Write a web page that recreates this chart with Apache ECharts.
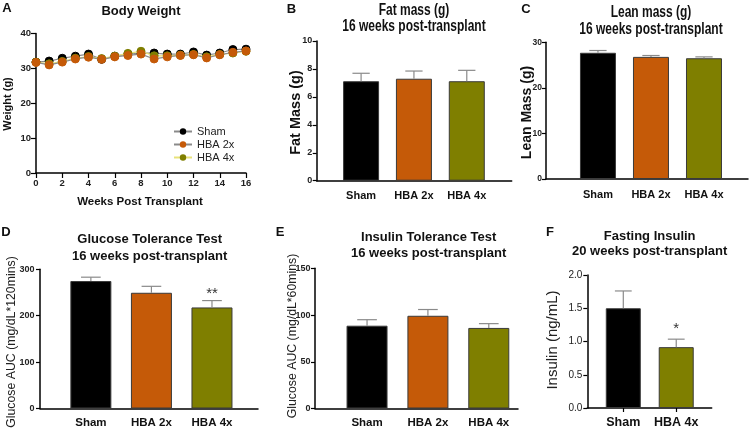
<!DOCTYPE html>
<html><head><meta charset="utf-8">
<script src="https://cdn.jsdelivr.net/npm/echarts@6/dist/echarts.min.js"></script>
<style>html,body{margin:0;padding:0;background:#fff}#c{width:750px;height:429px}</style>
</head><body><div id="c"></div>
<script>
// ---- Data ----
const weeks = [0,1,2,3,4,5,6,7,8,9,10,11,12,13,14,15,16];
const bwSham = [31.8,32.1,32.9,33.5,34.1,32.6,33.5,34.1,34.4,34.4,34.1,34.1,34.7,33.8,34.4,35.4,35.5];
const bwSemSham = [0.6,0.6,0.6,0.7,0.7,0.7,0.7,0.7,0.7,0.6,0.7,0.7,0.7,0.6,0.7,0.7,0.8];
const bwHba2 = [31.7,31.0,31.8,32.7,33.2,32.6,33.3,33.7,34.1,32.7,33.3,33.7,33.9,33.0,33.9,34.6,35.0];
const bwSemHba2 = [0.5,0.5,0.5,0.6,0.6,0.6,0.6,0.6,0.6,0.6,0.6,0.6,0.6,0.6,0.6,0.6,0.7];
const bwHba4 = [31.8,31.3,32.0,32.9,33.4,32.8,33.5,34.3,34.9,33.6,33.6,33.8,34.0,33.3,34.0,34.4,34.9];
const bwSemHba4 = [0.5,0.5,0.5,0.5,0.6,0.6,0.6,0.6,0.6,0.6,0.6,0.6,0.6,0.6,0.6,0.6,0.6];

const groups3 = ['Sham','HBA 2x','HBA 4x'];
const fatMean = [7.12, 7.30, 7.12];
const fatSem  = [0.57, 0.55, 0.78];
const leanMean = [27.7, 26.8, 26.5];
const leanSem  = [0.5, 0.3, 0.3];
const gttMean = [274.7, 249.4, 217.8];
const gttSem  = [8.3, 13.9, 14.8];
const gttSig  = ['', '', '**'];
const ittMean = [88.6, 99.2, 86.2];
const ittSem  = [6.4, 6.7, 4.6];
const groups2 = ['Sham','HBA 4x'];
const insMean = [1.50, 0.915];
const insSem  = [0.26, 0.12];
const insSig  = ['', '*'];

// ---- Styles ----
const ARIAL = '"Liberation Sans", Arial, sans-serif';
const COL = {Sham:'#000000', 'HBA 2x':'#C55A08', 'HBA 4x':'#7F7F00'};
const ERRC = '#8a8a8a';

const chart = echarts.init(document.getElementById('c'), null, {renderer:'canvas'});

const grids = [], xAxes = [], yAxes = [], series = [];

function axisLineStyle(){ return {show:true, onZero:false, lineStyle:{color:'#000', width:1.5}}; }

function errRender(capHalf, both, sig, sigGap, sigSize){
  return function(params, api){
    const x = api.value(0), y = api.value(1), e = api.value(2);
    const pt = api.coord([x, y + e]);
    const pb = api.coord([x, both ? y - e : y]);
    const st = {stroke: ERRC, lineWidth: 1.2};
    const ch = [
      {type:'line', shape:{x1:pt[0], y1:pt[1], x2:pb[0], y2:pb[1]}, style:st},
      {type:'line', shape:{x1:pt[0]-capHalf, y1:pt[1], x2:pt[0]+capHalf, y2:pt[1]}, style:st}
    ];
    if (both) ch.push({type:'line', shape:{x1:pb[0]-capHalf, y1:pb[1], x2:pb[0]+capHalf, y2:pb[1]}, style:st});
    if (sig && sig[params.dataIndex]) {
      ch.push({type:'text', x:pt[0], y:pt[1]-sigGap, style:{text:sig[params.dataIndex], textAlign:'center', textVerticalAlign:'bottom', fill:'#333', font:'normal '+sigSize+'px '+ARIAL}});
    }
    return {type:'group', children:ch};
  };
}

// ---- Panel A: body weight ----
grids.push({left:36, top:33.5, width:210, height:139.5});
xAxes.push({type:'value', gridIndex:0, min:0, max:16, interval:2,
  axisLine:axisLineStyle(), axisTick:{show:true, length:5, lineStyle:{color:'#000', width:1.2}},
  axisLabel:{margin:5, color:'#222', fontFamily:ARIAL, fontWeight:'bold', fontSize:9.5}, splitLine:{show:false}});
yAxes.push({type:'value', gridIndex:0, min:0, max:40, interval:10,
  axisLine:axisLineStyle(), axisTick:{show:true, length:5, lineStyle:{color:'#000', width:1.2}},
  axisLabel:{margin:5, color:'#222', fontFamily:ARIAL, fontWeight:'bold', fontSize:9.5}, splitLine:{show:false}});

const bwSets = [
  {name:'Sham', v:bwSham, s:bwSemSham, line:'#8a8a8a'},
  {name:'HBA 4x', v:bwHba4, s:bwSemHba4, line:'#e8e27a'},
  {name:'HBA 2x', v:bwHba2, s:bwSemHba2, line:'#8a8a8a'}
];
bwSets.forEach(function(d, i){
  series.push({type:'custom', xAxisIndex:0, yAxisIndex:0, z:1+i*3, silent:true,
    renderItem: errRender(3, true),
    data: weeks.map(function(w, k){ return [w, d.v[k], d.s[k]]; })});
  series.push({type:'line', name:d.name, xAxisIndex:0, yAxisIndex:0, z:2+i*3,
    data: weeks.map(function(w, k){ return [w, d.v[k]]; }),
    symbol:'circle', symbolSize:8, showSymbol:true,
    itemStyle:{color:COL[d.name], borderColor:COL[d.name]},
    lineStyle:{color:d.line, width:1.2}, animation:false});
});

// ---- Bar panels ----
const panels = [
  {cats:groups3, m:fatMean,  s:fatSem,  grid:{left:316.7, top:41, width:195, height:139.7}, xmin:-0.84, xmax:2.85, ymax:10, yint:2, bw:36, lw:'bold', lsz:9, lm:4.5, csz:11, cm:10, ticks:false, fmt:null},
  {cats:groups3, m:leanMean, s:leanSem, grid:{left:546, top:42.3, width:202, height:136.7}, xmin:-0.98, xmax:2.83, ymax:30, yint:10, bw:36, lw:'bold', lsz:8.5, lm:4, csz:11, cm:10, ticks:false, fmt:null},
  {cats:groups3, m:gttMean,  s:gttSem,  sig:gttSig, sg:-1, ssz:15, grid:{left:40, top:269.3, width:218, height:142.4}, xmin:-0.84, xmax:2.76, ymax:300, yint:100, bw:41, lw:'bold', lsz:9, lm:5.5, csz:11.5, cm:8.5, ticks:false, fmt:null},
  {cats:groups3, m:ittMean,  s:ittSem,  grid:{left:315, top:268.3, width:203, height:142.7}, xmin:-0.855, xmax:2.48, ymax:150, yint:50, bw:41, lw:'bold', lsz:9, lm:4.5, csz:11.5, cm:8.5, ticks:false, fmt:null},
  {cats:groups2, m:insMean,  s:insSem,  sig:insSig, sg:3, ssz:15, grid:{left:587.3, top:275, width:124.4, height:133.3}, xmin:-0.68, xmax:1.67, ymax:2, yint:0.5, bw:35, lw:'normal', lsz:10, lm:5, csz:12.5, cm:8, ticks:true, fmt:function(v){return v.toFixed(1);}}
];

panels.forEach(function(p, idx){
  const gi = idx + 1;
  grids.push(p.grid);
  const idxs = p.cats.map(function(c, k){ return k; });
  xAxes.push({type:'value', gridIndex:gi, min:p.xmin, max:p.xmax,
    axisLine:axisLineStyle(),
    axisTick:{show:p.ticks, customValues:idxs, length:4, lineStyle:{color:'#000', width:1.2}},
    axisLabel:{customValues:idxs, formatter:function(v){ return p.cats[Math.round(v)]; }, margin:p.cm,
      color:'#111', fontFamily:ARIAL, fontWeight:'bold', fontSize:p.csz},
    splitLine:{show:false}});
  yAxes.push({type:'value', gridIndex:gi, min:0, max:p.ymax, interval:p.yint,
    axisLine:axisLineStyle(), axisTick:{show:true, length:4, lineStyle:{color:'#000', width:1.2}},
    axisLabel:{margin:p.lm, color:'#222', fontFamily:ARIAL, fontWeight:p.lw, fontSize:p.lsz, formatter:p.fmt || undefined},
    splitLine:{show:false}});
  series.push({type:'bar', xAxisIndex:gi, yAxisIndex:gi, barWidth:p.bw, z:2, animation:false,
    data: p.m.map(function(v, k){ return {value:[k, v], itemStyle:{color:COL[p.cats[k]], borderColor:'#3a3a3a', borderWidth:1}}; })});
  series.push({type:'custom', xAxisIndex:gi, yAxisIndex:gi, z:3, silent:true,
    renderItem: errRender(p.bw*0.24, false, p.sig, p.sg, p.ssz),
    data: p.m.map(function(v, k){ return [k, v, p.s[k]]; })});
});

// ---- Texts ----
function T(text, x, y, font, opts){
  opts = opts || {};
  return {type:'text', x:x, y:y, rotation:opts.rot || 0, scaleX:opts.sx || 1, silent:true,
    style:{text:text, textAlign:'center', textVerticalAlign:'middle', fill:opts.fill || '#111', font:font, lineHeight:opts.lh}};
}
const R90 = Math.PI/2;
const graphic = [
  T('A', 7, 8, 'bold 13px '+ARIAL),
  T('B', 291.5, 9, 'bold 13px '+ARIAL),
  T('C', 526, 9.5, 'bold 13px '+ARIAL),
  T('D', 6, 232.5, 'bold 13px '+ARIAL),
  T('E', 280, 232, 'bold 13px '+ARIAL),
  T('F', 550, 232, 'bold 13px '+ARIAL),
  T('Body Weight', 141, 11, 'bold 13px '+ARIAL),
  T('Fat mass (g)\n16 weeks post-transplant', 414, 18.6, 'bold 16px '+ARIAL, {lh:16.7, sx:0.75}),
  T('Lean mass (g)\n16 weeks post-transplant', 651, 21.1, 'bold 16px '+ARIAL, {lh:17.2, sx:0.75}),
  T('Glucose Tolerance Test\n16 weeks post-transplant', 149.7, 247.8, 'bold 13px '+ARIAL, {lh:17}),
  T('Insulin Tolerance Test\n16 weeks post-transplant', 428.7, 245.3, 'bold 13px '+ARIAL, {lh:15.5}),
  T('Fasting Insulin\n20 weeks post-transplant', 649.7, 244, 'bold 13px '+ARIAL, {lh:15.4}),
  T('Weight (g)', 8, 104, 'bold 11px '+ARIAL, {rot:R90}),
  T('Weeks Post Transplant', 140, 202, 'bold 11.5px '+ARIAL),
  T('Fat Mass (g)', 296, 112.5, 'bold 14.5px '+ARIAL, {rot:R90}),
  T('Lean Mass (g)', 527.5, 112.5, 'bold 14px '+ARIAL, {rot:R90}),
  T('Glucose AUC (mg/dL*120mins)', 12, 342, 'normal 12.3px '+ARIAL, {rot:R90, fill:'#222'}),
  T('Glucose AUC (mg/dL*60mins)', 292.5, 336, 'normal 12.3px '+ARIAL, {rot:R90, fill:'#222'}),
  T('Insulin (ng/mL)', 553.3, 340, 'normal 15px '+ARIAL, {rot:R90, fill:'#222'})
];

chart.setOption({
  animation:false,
  backgroundColor:'#fff',
  grid:grids, xAxis:xAxes, yAxis:yAxes, series:series, graphic:graphic,
  legend:{data:['Sham','HBA 2x','HBA 4x'], orient:'vertical', left:168, top:121, itemWidth:18, itemHeight:8, itemGap:2,
    textStyle:{fontFamily:ARIAL, fontSize:11, color:'#222'}, selectedMode:false}
});
</script></body></html>
